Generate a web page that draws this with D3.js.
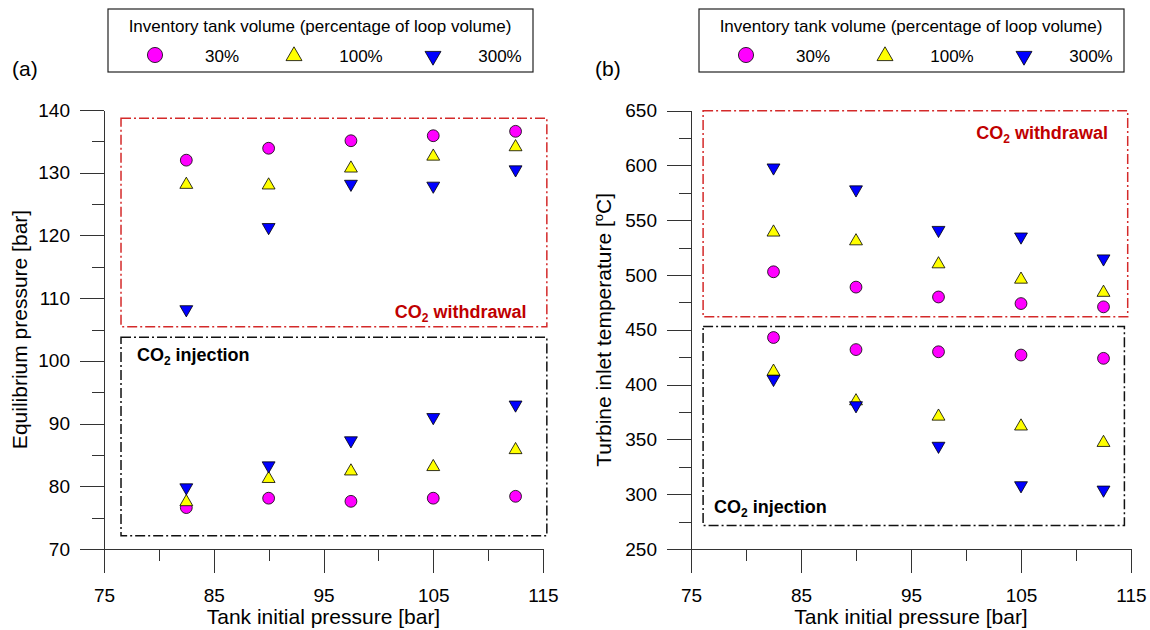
<!DOCTYPE html>
<html>
  <head>
    <title>Inventory tank</title>
    <meta charset="utf-8">
    <style>
        body { margin: 0; background: white; }
        text { font-family: "Liberation Sans", Arial, sans-serif; }
        .axis path, .axis line { stroke: #333; stroke-width: 1px; shape-rendering: crispEdges; }
        .axis text { font-family: "Liberation Sans", Arial, sans-serif; font-size: 19px; fill: black; }
        .mark { stroke: black; stroke-width: 0.8px; }
    </style>
  </head>
  <body>
    <script src="https://d3js.org/d3.v7.min.js"></script>
    <script>
        // tank initial pressure [bar]
        var pressures = [82.5, 90, 97.5, 105, 112.5];
        var volumes = ["30%", "100%", "300%"];

        var xMajor = [75, 85, 95, 105, 115];
        var xMinor = [80, 90, 100, 110];

        // (a) equilibrium pressure [bar]
        var eqWithdrawal30  = [132.0, 133.9, 135.1, 135.9, 136.6];
        var eqWithdrawal100 = [128.1, 128.0, 130.7, 132.6, 134.1];
        var eqWithdrawal300 = [108.2, 121.3, 128.2, 127.9, 130.5];
        var eqInjection30   = [76.6, 78.1, 77.6, 78.1, 78.4];
        var eqInjection100  = [77.5, 81.2, 82.4, 83.1, 85.8];
        var eqInjection300  = [79.8, 83.3, 87.3, 91.0, 93.0];
        var eqMajor = [70, 80, 90, 100, 110, 120, 130, 140];
        var eqMinor = [75, 85, 95, 105, 115, 125, 135];

        // (b) turbine inlet temperature [C]
        var titWithdrawal30  = [503, 489, 480, 474, 471];
        var titWithdrawal100 = [539, 531, 510, 496, 484];
        var titWithdrawal300 = [598, 578, 541, 535, 515];
        var titInjection30   = [443, 432, 430, 427, 424];
        var titInjection100  = [412, 385, 371, 362, 347];
        var titInjection300  = [405, 381, 344, 308, 304];
        var titMajor = [250, 300, 350, 400, 450, 500, 550, 600, 650];
        var titMinor = [275, 325, 375, 425, 475, 525, 575, 625];

        var fills = { "30%": "#ff00ff", "100%": "#ffff00", "300%": "#0000ff" };

        var svg = d3.select("body").append("svg")
            .attr("width", 1150)
            .attr("height", 630);

        function markPath(vol, size) {
            var type = vol == "30%" ? d3.symbolCircle : d3.symbolTriangle;
            return d3.symbol().type(type).size(size)();
        }
        function markTransform(vol, px, py) {
            return "translate(" + px + "," + py + ")" + (vol == "300%" ? " rotate(180)" : "");
        }

        function co2Label(g, px, py, anchor, label, color) {
            var t = g.append("text")
                .attr("x", px)
                .attr("y", py)
                .attr("text-anchor", anchor)
                .style("font-size", "18px")
                .style("font-weight", "bold")
                .style("fill", color);
            t.append("tspan").text("CO");
            t.append("tspan").attr("dy", 4).style("font-size", "12px").text("2");
            t.append("tspan").attr("dy", -4).text(" " + label);
        }

        function drawPanel(p) {
            var x = d3.scaleLinear().domain([75, 115]).range(p.xRange);
            var y = d3.scaleLinear().domain(p.yDomain).range(p.yRange);
            var g = svg.append("g");

            // dash-dot region boxes
            p.boxes.forEach(function (b) {
                g.append("rect")
                    .attr("x", x(b.x0))
                    .attr("y", y(b.y1))
                    .attr("width", x(b.x1) - x(b.x0))
                    .attr("height", y(b.y0) - y(b.y1))
                    .style("fill", "none")
                    .style("stroke", b.color)
                    .style("stroke-width", 1.5)
                    .style("stroke-dasharray", "10,3,2,3");
            });

            co2Label(g, x(p.withdrawLabel[0]), y(p.withdrawLabel[1]), "end", "withdrawal", "#c00000");
            co2Label(g, x(p.injectLabel[0]), y(p.injectLabel[1]), "start", "injection", "black");

            // axes
            var yBase = p.yRange[0];
            g.append("g").attr("class", "axis")
                .attr("transform", "translate(0," + yBase + ")")
                .call(d3.axisBottom(x).tickValues(xMajor).tickSize(24).tickSizeOuter(0).tickPadding(16).tickFormat(d3.format("d")));
            g.append("g").attr("class", "axis")
                .attr("transform", "translate(0," + yBase + ")")
                .call(d3.axisBottom(x).tickValues(xMinor).tickSize(12).tickSizeOuter(0).tickFormat(""));
            g.append("g").attr("class", "axis")
                .attr("transform", "translate(" + p.xRange[0] + ",0)")
                .call(d3.axisLeft(y).tickValues(p.yMajor).tickSize(24).tickSizeOuter(0).tickPadding(10).tickFormat(d3.format("d")));
            g.append("g").attr("class", "axis")
                .attr("transform", "translate(" + p.xRange[0] + ",0)")
                .call(d3.axisLeft(y).tickValues(p.yMinor).tickSize(12).tickSizeOuter(0).tickFormat(""));
            g.selectAll(".axis").attr("font-family", null).attr("font-size", null);

            g.append("text")
                .attr("x", (p.xRange[0] + p.xRange[1]) / 2)
                .attr("y", 624)
                .attr("text-anchor", "middle")
                .style("font-size", "21px")
                .text("Tank initial pressure [bar]");

            var yt = g.append("text")
                .attr("transform", "translate(" + p.yTitleX + "," + ((p.yRange[0] + p.yRange[1]) / 2) + ") rotate(-90)")
                .attr("text-anchor", "middle")
                .style("font-size", "21px");
            yt.append("tspan").text(p.yTitle[0]);
            if (p.yTitle.length > 1) {
                yt.append("tspan").attr("dy", -8).style("font-size", "13px").text(p.yTitle[1]);
                yt.append("tspan").attr("dy", 8).text(p.yTitle[2]);
            }

            g.append("text")
                .attr("x", p.tagX)
                .attr("y", 76)
                .style("font-size", "21px")
                .text(p.tag);

            // points
            p.series.forEach(function (s) {
                g.selectAll(null)
                    .data(s.values)
                    .enter()
                    .append("path")
                    .attr("class", "mark")
                    .attr("d", markPath(s.vol, s.vol == "30%" ? 110 : 72))
                    .attr("transform", function (d, i) { return markTransform(s.vol, x(pressures[i]), y(d)); })
                    .style("fill", fills[s.vol]);
            });

            // legend
            var lg = g.append("g").attr("transform", "translate(" + p.legendX + ",9)");
            lg.append("rect")
                .attr("width", 425)
                .attr("height", 63)
                .style("fill", "white")
                .style("stroke", "#222")
                .style("stroke-width", 1.2);
            lg.append("text")
                .attr("x", 212)
                .attr("y", 23)
                .attr("text-anchor", "middle")
                .style("font-size", "17px")
                .text("Inventory tank volume (percentage of loop volume)");
            var item = lg.selectAll(null)
                .data(volumes)
                .enter()
                .append("g")
                .attr("transform", function (d, i) { return "translate(" + (47 + i * 139) + ",46)"; });
            item.append("path")
                .attr("class", "mark")
                .attr("d", function (d) { return markPath(d, d == "30%" ? 180 : 110); })
                .attr("transform", function (d) { return markTransform(d, 0, d == "30%" ? 0 : 1); })
                .style("fill", function (d) { return fills[d]; });
            item.append("text")
                .attr("x", 67)
                .attr("y", 7)
                .attr("text-anchor", "middle")
                .style("font-size", "17px")
                .text(function (d) { return d; });
        }

        drawPanel({
            xRange: [104, 543],
            yDomain: [70, 140],
            yRange: [549, 110],
            yMajor: eqMajor,
            yMinor: eqMinor,
            yTitle: ["Equilibrium pressure [bar]"],
            yTitleX: 27,
            tag: "(a)",
            tagX: 12,
            legendX: 108,
            withdrawLabel: [113.5, 106.8],
            injectLabel: [78.0, 100.0],
            boxes: [
                { x0: 76.55, x1: 115.35, y0: 105.45, y1: 138.7, color: "#d42a2a" },
                { x0: 76.55, x1: 115.35, y0: 72.1, y1: 103.75, color: "#111" }
            ],
            series: [
                { vol: "30%", values: eqWithdrawal30 },
                { vol: "100%", values: eqWithdrawal100 },
                { vol: "300%", values: eqWithdrawal300 },
                { vol: "30%", values: eqInjection30 },
                { vol: "100%", values: eqInjection100 },
                { vol: "300%", values: eqInjection300 }
            ]
        });

        drawPanel({
            xRange: [691, 1131],
            yDomain: [250, 650],
            yRange: [549, 110.7],
            yMajor: titMajor,
            yMinor: titMinor,
            yTitle: ["Turbine inlet temperature [", "o", "C]"],
            yTitleX: 611,
            tag: "(b)",
            tagX: 595,
            legendX: 699,
            withdrawLabel: [112.9, 624],
            injectLabel: [77.1, 283],
            boxes: [
                { x0: 76.1, x1: 114.7, y0: 462, y1: 650, color: "#d42a2a" },
                { x0: 76.1, x1: 114.4, y0: 271.5, y1: 453, color: "#111" }
            ],
            series: [
                { vol: "30%", values: titWithdrawal30 },
                { vol: "100%", values: titWithdrawal100 },
                { vol: "300%", values: titWithdrawal300 },
                { vol: "30%", values: titInjection30 },
                { vol: "100%", values: titInjection100 },
                { vol: "300%", values: titInjection300 }
            ]
        });
    </script>
  </body>
</html>
